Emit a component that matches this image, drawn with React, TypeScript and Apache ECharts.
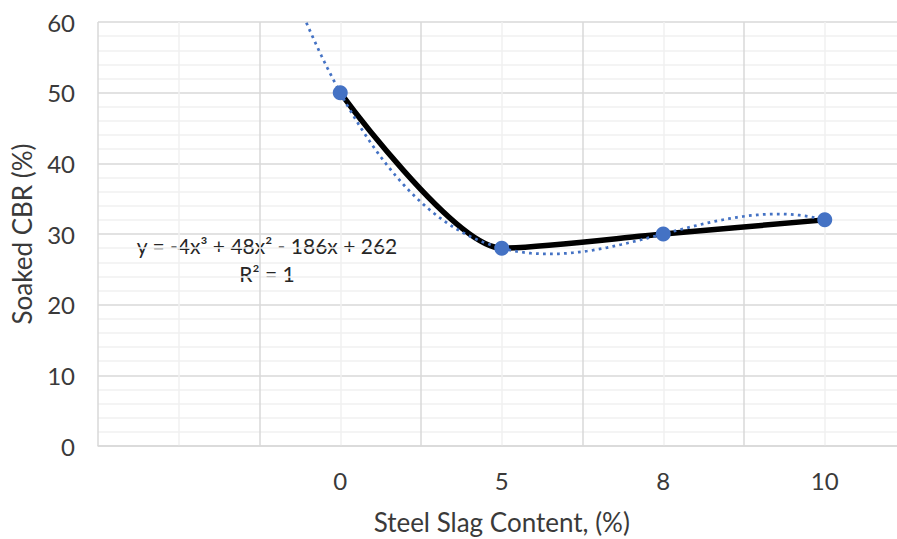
import React, { useEffect, useRef } from "react";
import * as echarts from "echarts";

// Steel slag content (%) used as category labels
const categories = ["0", "5", "8", "10"];
// Soaked CBR (%) for each mix
const soakedCbr = [50, 28, 30, 32];
// Excel-style category axis: one empty slot before the first category
const leadingBlankSlots = 1;
// Polynomial trendline (order 3), highest power first
const trendCoefficients = [-4, 48, -186, 262];
const rSquared = 1;
// Value axis ticks
const yMin = 0;
const yMax = 60;
const yInterval = 10;

const FONT = "Lato, 'Open Sans', sans-serif";
const TEXT = "#3a3a3a";
const BLUE = "#4472C4";

const slotOf = (i: number) => i + 1 + leadingBlankSlots;
const poly = (x: number) =>
  trendCoefficients.reduce((acc, c) => acc * x + c, 0);

function formatEquation(coefs: number[]): string {
  const sup = ["", "", "²", "³"];
  const n = coefs.length - 1;
  let s = "y = ";
  coefs.forEach((c, k) => {
    const p = n - k;
    const abs = Math.abs(c);
    const term = p === 0 ? `${abs}` : p === 1 ? `${abs}x` : `${abs}x${sup[p]}`;
    if (k === 0) s += (c < 0 ? "-" : "") + term;
    else s += (c < 0 ? " - " : " + ") + term;
  });
  return s;
}

export default function App() {
  const ref = useRef<HTMLDivElement>(null);

  useEffect(() => {
    if (!ref.current) return;
    const chart = echarts.init(ref.current, undefined, { renderer: "svg" });

    const points = soakedCbr.map((v, i) => [slotOf(i), v]);
    const xStart = slotOf(0) - 0.5;
    const xEnd = slotOf(soakedCbr.length - 1);
    const trend: number[][] = [];
    const steps = 200;
    for (let k = 0; k <= steps; k++) {
      const x = xStart + ((xEnd - xStart) * k) / steps;
      trend.push([x, poly(x)]);
    }
    const labelAt: Record<string, string> = {};
    categories.forEach((c, i) => (labelAt[String(slotOf(i))] = c));
    const slotCount = categories.length + leadingBlankSlots;

    chart.setOption({
      animation: false,
      grid: {
        left: 98,
        top: 22,
        bottom: 93,
        right: -8.5,
        containLabel: false,
        outerBoundsMode: "none",
      },
      xAxis: {
        type: "value",
        min: 0.5,
        max: slotCount + 0.5,
        interval: 0.5,
        name: "Steel Slag Content, (%)",
        nameLocation: "middle",
        nameGap: 63,
        nameTextStyle: { fontFamily: FONT, fontSize: 26, color: TEXT },
        axisLine: { show: true, lineStyle: { color: "#d9d9d9", width: 1.5 } },
        axisTick: { show: false },
        axisLabel: {
          margin: 22,
          fontFamily: FONT,
          fontSize: 24,
          color: TEXT,
          formatter: (v: number) => labelAt[String(v)] ?? "",
        },
        splitLine: {
          show: true,
          lineStyle: { color: ["#d9d9d9", "#f0f0f0"], width: 1.5 },
        },
      },
      yAxis: {
        type: "value",
        min: yMin,
        max: yMax,
        interval: yInterval,
        name: "Soaked CBR (%)",
        nameLocation: "middle",
        nameGap: 63,
        nameTextStyle: { fontFamily: FONT, fontSize: 26, color: TEXT },
        axisLine: { show: false },
        axisTick: { show: false },
        axisLabel: { margin: 23, fontFamily: FONT, fontSize: 24, color: TEXT },
        splitLine: { show: true, lineStyle: { color: "#d9d9d9", width: 1.5 } },
        minorTick: { show: false, splitNumber: 5 },
        minorSplitLine: { show: true, lineStyle: { color: "#f0f0f0", width: 1.5 } },
      },
      series: [
        {
          type: "line",
          data: points,
          smooth: 0.25,
          symbol: "none",
          lineStyle: { color: "#000000", width: 5.5 },
          z: 2,
        },
        {
          type: "line",
          data: trend,
          symbol: "none",
          clip: true,
          lineStyle: { color: BLUE, width: 2.75, type: [2.75, 4.25] },
          z: 3,
        },
        {
          type: "scatter",
          data: points,
          symbol: "circle",
          symbolSize: 15,
          itemStyle: { color: BLUE, opacity: 1 },
          z: 4,
        },
      ],
      graphic: [
        {
          type: "text",
          x: 267,
          y: 245,
          style: {
            text: formatEquation(trendCoefficients),
            fontFamily: FONT,
            fontSize: 21,
            fill: "#262626",
            align: "center",
            verticalAlign: "middle",
          },
        },
        {
          type: "text",
          x: 267,
          y: 273,
          style: {
            text: `R² = ${rSquared}`,
            fontFamily: FONT,
            fontSize: 21,
            fill: "#262626",
            align: "center",
            verticalAlign: "middle",
          },
        },
      ],
    });

    return () => chart.dispose();
  }, []);

  return (
    <div
      ref={ref}
      style={{ position: "fixed", left: 0, top: 0, width: 897, height: 539, background: "#fff" }}
    />
  );
}
